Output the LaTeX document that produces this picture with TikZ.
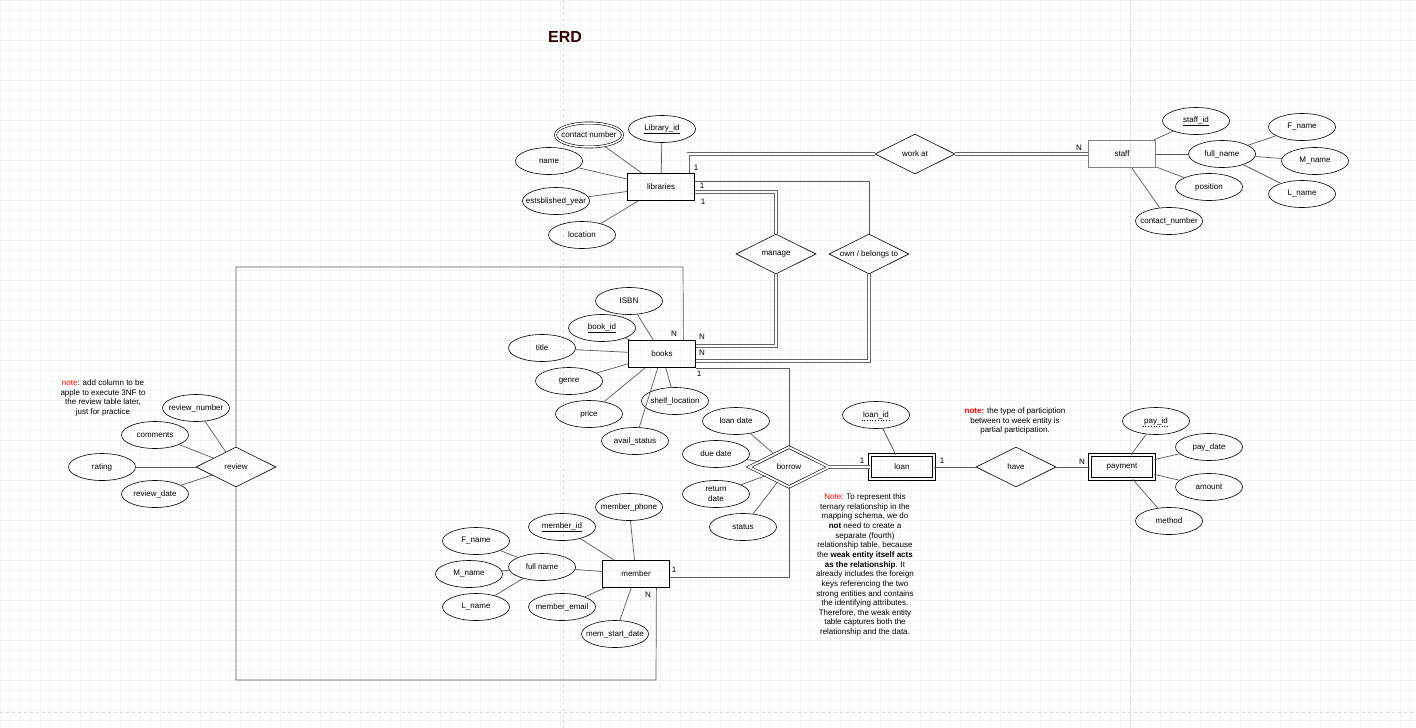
\documentclass[tikz,border=0pt]{standalone}
\usepackage{fontspec}
\setmainfont{Liberation Sans}
\usetikzlibrary{calc}
\usetikzlibrary{shapes.geometric}
\definecolor{ttl}{HTML}{330000}

\begin{document}
\begin{tikzpicture}[x=1pt, y=-1pt, font=\fontsize{8}{9.7}\selectfont,
  attr/.style={draw, ellipse, line width=0.6pt, minimum width=67pt, minimum height=27pt, inner xsep=-10pt, inner ysep=0pt},
  ent/.style={draw, rectangle, line width=0.8pt, minimum width=67pt, minimum height=27pt, inner sep=0pt},
  weak/.style={draw, rectangle, line width=0.7pt, double, double distance=2pt, minimum width=64pt, minimum height=24pt, inner sep=0pt},
  rel/.style={draw, diamond, aspect=2, line width=0.6pt, minimum width=80pt, minimum height=40pt, inner sep=0pt},
  link/.style={draw=black!65, line width=0.7pt},
  dlink/.style={draw=black!60, line width=0.6pt, double, double distance=2pt},
  card/.style={inner sep=0pt},
  pkey/.style={inner sep=0pt, outer sep=1.5pt},
  note/.style={align=center, inner sep=0pt}]
\useasboundingbox (0,0) rectangle (1416,728);
\fill[white] (0,0) rectangle (1416,728);
\foreach \x in {0,10,...,1410} \draw[black!5, line width=0.4pt] (\x,0) -- (\x,728);
\foreach \y in {0,10,...,720} \draw[black!5, line width=0.4pt] (0,\y) -- (1416,\y);
\foreach \x in {563, 1130} \draw[black!15, dashed, line width=0.4pt] (\x,0) -- (\x,728);
\draw[black!15, dashed, line width=0.4pt] (0,712) -- (1416,712);

\node (title) at (565,37) {\fontsize{16}{18}\selectfont\bfseries\color{ttl}ERD};

\node[ent] (libraries) at (661,187) {libraries};
\node[ent, line width=1.6pt, draw=black!50] (staff) at (1122,154) {staff};
\node[ent] (books) at (662,354) {books};
\node[ent] (member) at (636,574) {member};
\node[weak] (loan) at (902,467) {loan};
\node[weak] (payment) at (1122,467) {payment};

\node[rel] (workat) at (915,154) {work at};
\node[rel] (manage) at (776,254) {manage};
\node[rel] (owns) at (869,254) {own / belongs to};
\node[rel] (review) at (236,467) {review};
\node[rel, double, double distance=2pt] (borrow) at (789,467) {borrow};
\node[rel] (have) at (1016,467) {have};

\node[attr, double, double distance=1.5pt, minimum width=67pt, minimum height=24pt] (libcontact) at (589,135) {contact number};
\node[attr] (libid) at (662,129) {\underline{Library\_id}};
\node[attr] (libname) at (549,161) {name};
\node[attr] (libyear) at (556,201) {estsblished\_year};
\node[attr] (libloc) at (582,235) {location};

\node[attr] (staffid) at (1196,121) {\underline{staff\_id}};
\node[attr] (sfull) at (1222,154) {full\_name};
\node[attr] (spos) at (1209,187) {position};
\node[attr] (scontact) at (1169,221) {contact\_number};
\node[attr] (sfname) at (1302,127) {F\_name};
\node[attr] (smname) at (1315,161) {M\_name};
\node[attr] (slname) at (1302,194) {L\_name};

\node[attr] (isbn) at (629,301) {ISBN};
\node[attr] (bookid) at (602,328) {\underline{book\_id}};
\node[attr] (btitle) at (542,348) {title};
\node[attr] (bgenre) at (569,381) {genre};
\node[attr] (bprice) at (589,414) {price};
\node[attr] (bavail) at (635,441) {avail\_status};
\node[attr] (bshelf) at (675,401) {shelf\_location};

\node[attr] (rnumber) at (196,408) {review\_number};
\node[attr] (rcomments) at (155,435) {comments};
\node[attr] (rrating) at (102,467) {rating};
\node[attr] (rdate) at (155,494) {review\_date};

\node[attr] (loandate) at (736,421) {loan date};
\node[attr] (duedate) at (716,454) {due date};
\node[attr, align=center] (retdate) at (716,494) {return\\date};
\node[attr] (bstatus) at (743,527) {status};

\node[attr] (loanid) at (876,415) {};
\node[pkey] (loanidt) at (loanid) {loan\_id};
\node[attr] (payid) at (1156,421) {};
\node[pkey] (payidt) at (payid) {pay\_id};
\node[attr] (paydate) at (1209,447) {pay\_date};
\node[attr] (pamount) at (1209,487) {amount};
\node[attr] (pmethod) at (1169,521) {method};

\node[attr] (mphone) at (629,507) {member\_phone};
\node[attr] (memberid) at (562,527) {\underline{member\_id}};
\node[attr] (mfull) at (542,567) {full name};
\node[attr] (memail) at (562,607) {member\_email};
\node[attr] (mstart) at (615,634) {mem\_start\_date};
\node[attr] (mfname) at (476,541) {F\_name};
\node[attr] (mmname) at (469,574) {M\_name};
\node[attr] (mlname) at (476,607) {L\_name};

\draw[dotted, line width=0.7pt] (loanidt.south west) -- (loanidt.south east);
\draw[dotted, line width=0.7pt] (payidt.south west) -- (payidt.south east);

\foreach \a in {libcontact, libid, libname, libyear, libloc} \draw[link] (\a) -- (libraries);
\foreach \a in {staffid, sfull, spos, scontact} \draw[link] (\a) -- (staff);
\foreach \a in {sfname, smname, slname} \draw[link] (\a) -- (sfull);
\foreach \a in {isbn, bookid, btitle, bgenre, bprice, bavail, bshelf} \draw[link] (\a) -- (books);
\foreach \a in {rnumber, rcomments, rrating, rdate} \draw[link] (\a) -- (review);
\foreach \a in {loandate, duedate, retdate, bstatus} \draw[link] (\a) -- (borrow);
\foreach \a in {payid, paydate, pamount, pmethod} \draw[link] (\a) -- (payment);
\foreach \a in {mphone, memberid, mfull, memail, mstart} \draw[link] (\a) -- (member);
\foreach \a in {mfname, mmname, mlname} \draw[link] (\a) -- (mfull);
\draw[link] (loanid) -- (loan);

\draw[dlink] ([xshift=-6.5pt]libraries.north east) |- (workat.west);
\draw[dlink] (workat.east) -- (staff.west);
\draw[dlink] ([yshift=-5pt]libraries.east) -| (manage.north);
\draw[link] ([yshift=6pt]libraries.east) -| (owns.north);
\draw[dlink] (manage.south) |- ([yshift=8pt]books.east);
\draw[dlink] (owns.south) |- ([yshift=-7pt]books.east);
\draw[link] (books.south east) -| (borrow.north);
\draw[link] ([yshift=-3pt]member.east) -| (borrow.south);
\draw[dlink] (borrow.east) -- (loan.west);
\draw[link] (loan.east) -- (have.west);
\draw[link] (have.east) -- (payment.west);

\coordinate (bkloop) at (683,267);
\coordinate (mbloop) at (656,680);
\draw[link] ([xshift=-12.5pt]books.north east) -- (bkloop) -| (review.north);
\draw[link] (review.south) |- (mbloop) -- ([xshift=-13.5pt]member.south east);

\node[card] (c1) at (696,168) {1};
\node[card] (c2) at (1079,148) {N};
\node[card] (c3) at (702,186) {1};
\node[card] (c4) at (703,202) {1};
\node[card] (c5) at (702,337) {N};
\node[card] (c6) at (702,353) {N};
\node[card] (c7) at (699,374) {1};
\node[card] (c8) at (674,334) {N};
\node[card] (c9) at (674,570) {1};
\node[card] (c10) at (648,595) {N};
\node[card] (c11) at (862,461) {1};
\node[card] (c12) at (942,461) {1};
\node[card] (c13) at (1082,462) {N};

\node[note] (note1) at (103,398) {\textcolor{red}{note}: add column to be\\apple to execute 3NF to\\the review table later,\\just for practice};
\node[note] (note2) at (1015,421) {\textbf{\textcolor{red}{note:}} the type of particiption\\between to week entity is\\partial participation.};
\node[note, font=\fontsize{8}{9.65}\selectfont] (note3) at (865,565) {\textcolor{red}{Note:} To represent this\\ternary relationship in the\\mapping schema, we do\\\textbf{not} need to create a\\separate (fourth)\\relationship table, because\\the \textbf{weak entity itself acts}\\\textbf{as the relationship}. It\\already includes the foreign\\keys referencing the two\\strong entities and contains\\the identifying attributes.\\Therefore, the weak entity\\table captures both the\\relationship and the data.};
\end{tikzpicture}
\end{document}
